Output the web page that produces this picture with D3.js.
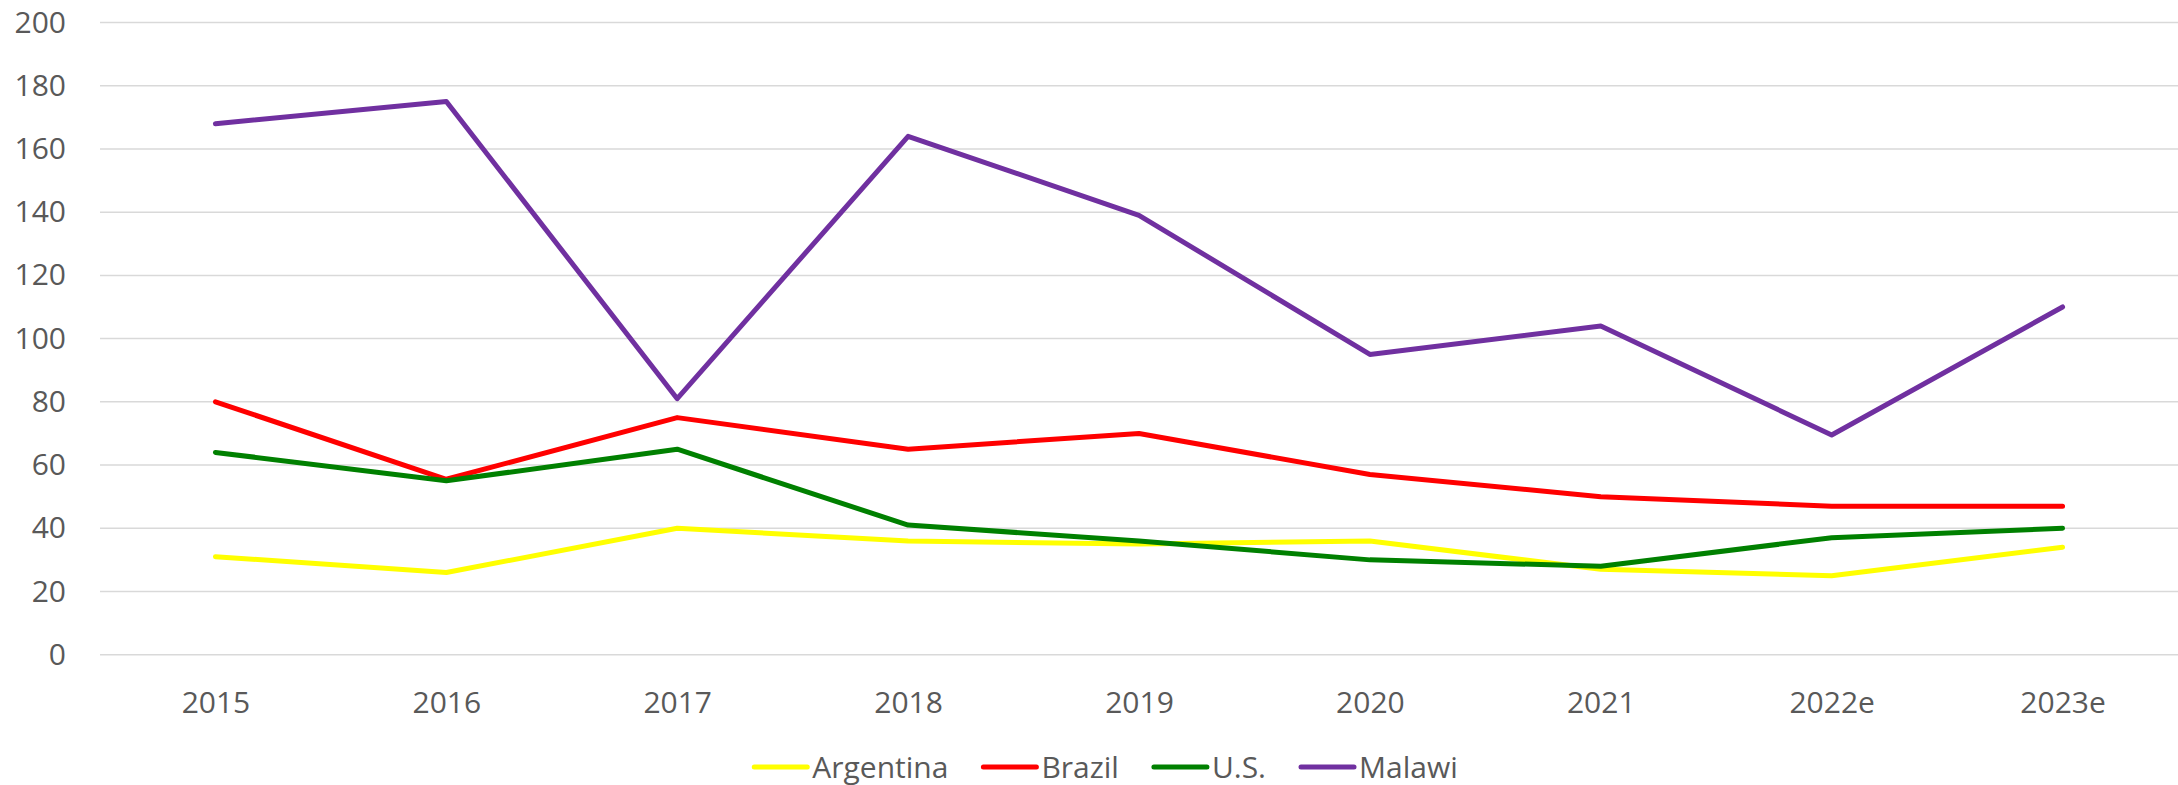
<!DOCTYPE html>
<html>
<head>
<meta charset="utf-8">
<script src="https://cdn.jsdelivr.net/npm/d3@7"></script>
<style>
  body { margin: 0; background: #fff; }
  svg { display: block; font-family: "Segoe UI", "Open Sans", sans-serif; }
</style>
</head>
<body>
<svg id="chart" width="2178" height="785"></svg>
<script>
const years = ["2015", "2016", "2017", "2018", "2019", "2020", "2021", "2022e", "2023e"];
const argentina = [31, 26, 40, 36, 35, 36, 27, 25, 34];
const brazil = [80, 55.5, 75, 65, 70, 57, 50, 47, 47];
const us = [64, 55, 65, 41, 36, 30, 28, 37, 40];
const malawi = [168, 175, 81, 164, 139, 95, 104, 69.5, 110];
const yTicks = [0, 20, 40, 60, 80, 100, 120, 140, 160, 180, 200];

const series = [
  { name: "Argentina", values: argentina, color: "#FFFF00" },
  { name: "Brazil", values: brazil, color: "#FF0000" },
  { name: "U.S.", values: us, color: "#008000" },
  { name: "Malawi", values: malawi, color: "#7030A0" }
];

const svg = d3.select("#chart");
const plotLeft = 100, plotRight = 2178, plotTop = 22.5, plotBottom = 654.7;

const x = d3.scalePoint()
  .domain(years)
  .range([plotLeft, plotRight])
  .padding(0.5);

const y = d3.scaleLinear()
  .domain([0, 200])
  .range([plotBottom, plotTop]);

// Gridlines
svg.append("g")
  .selectAll("line")
  .data(yTicks)
  .enter()
  .append("line")
  .attr("x1", plotLeft)
  .attr("x2", plotRight)
  .attr("y1", d => y(d))
  .attr("y2", d => y(d))
  .attr("stroke", "#D9D9D9")
  .attr("stroke-width", 1.5);

// Y axis labels
const yAxis = svg.append("g")
  .attr("transform", `translate(${plotLeft - 34}, 0)`)
  .call(d3.axisLeft(y).tickValues(yTicks).tickSize(0).tickPadding(0));
yAxis.select(".domain").remove();
yAxis.selectAll("text")
  .style("font-size", "30px")
  .style("font-family", "'Segoe UI', 'Open Sans', sans-serif")
  .attr("fill", "#595959");

// X axis labels
const xAxis = svg.append("g")
  .attr("transform", `translate(0, ${plotBottom})`)
  .call(d3.axisBottom(x).tickSize(0).tickPadding(37));
xAxis.select(".domain").remove();
xAxis.selectAll("text")
  .style("font-size", "30px")
  .style("font-family", "'Segoe UI', 'Open Sans', sans-serif")
  .attr("fill", "#595959");

// Lines
const line = d3.line()
  .x((d, i) => x(years[i]))
  .y(d => y(d));

svg.append("g")
  .selectAll("path")
  .data(series)
  .enter()
  .append("path")
  .attr("d", d => line(d.values))
  .attr("fill", "none")
  .attr("stroke", d => d.color)
  .attr("stroke-width", 5)
  .attr("stroke-linecap", "round")
  .attr("stroke-linejoin", "round");

// Legend
const legend = svg.append("g");
const legendY = 767;
let cursor = 0;
series.forEach(s => {
  const g = legend.append("g").attr("transform", `translate(${cursor}, ${legendY})`);
  g.append("line")
    .attr("x1", 2).attr("x2", 55)
    .attr("y1", 0).attr("y2", 0)
    .attr("stroke", s.color)
    .attr("stroke-width", 5)
    .attr("stroke-linecap", "round");
  const t = g.append("text")
    .attr("x", 60)
    .attr("y", 0)
    .attr("dy", "0.35em")
    .style("font-size", "30px")
    .attr("fill", "#595959")
    .text(s.name);
  cursor += 60 + t.node().getComputedTextLength() + 33;
});
const legendWidth = cursor - 33;
legend.attr("transform", `translate(${1105 - legendWidth / 2}, 0)`);
</script>
</body>
</html>
